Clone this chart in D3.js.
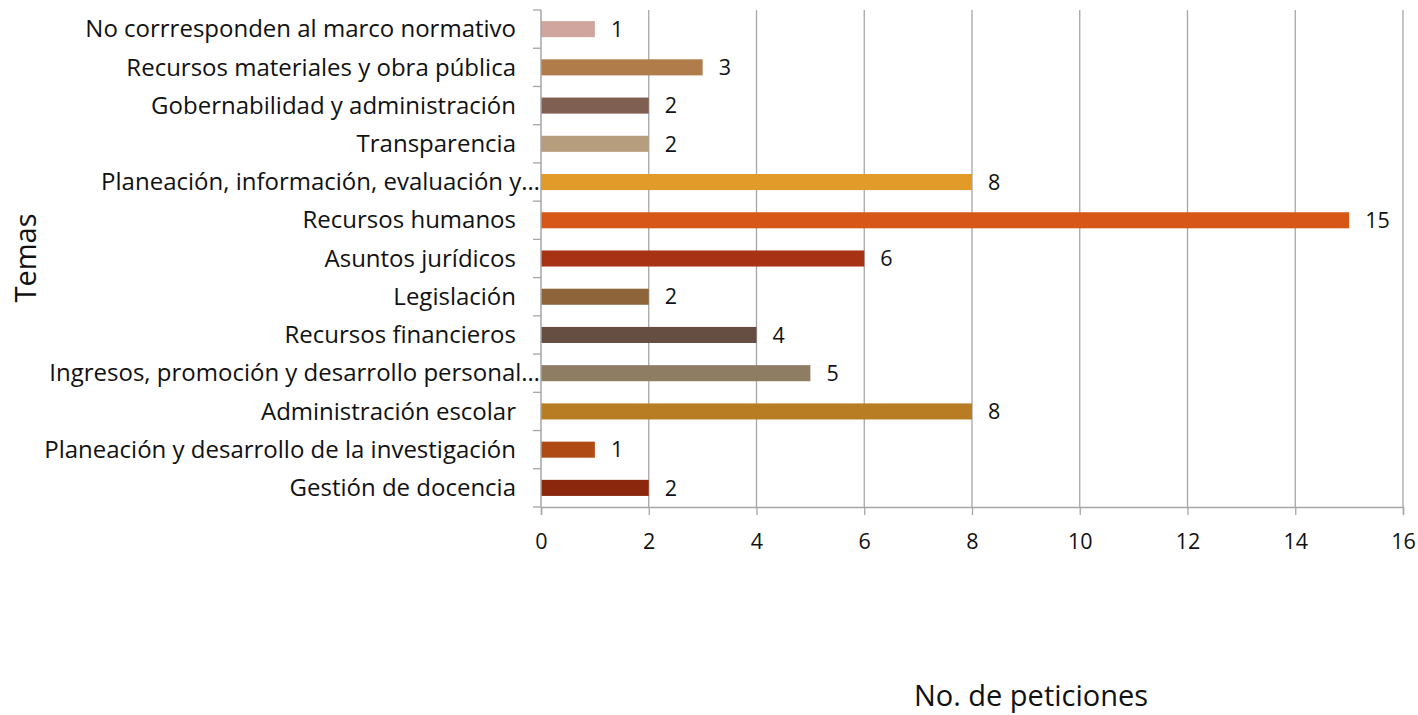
<!DOCTYPE html>
<html>
<head>
<meta charset="utf-8">
<script src="https://cdn.jsdelivr.net/npm/d3@7"></script>
<style>
  body { margin: 0; background: #fff; }
  .cat text { font-family: "Open Sans", sans-serif; font-size: 24px; fill: #111; }
  .val { font-family: "Open Sans", sans-serif; font-size: 21.5px; fill: #111; }
  .xax text { font-family: "Open Sans", sans-serif; font-size: 21.5px; fill: #111; }
  .ttl { font-family: "Open Sans", sans-serif; font-size: 29px; fill: #111; }
</style>
</head>
<body>
<div id="chart"></div>
<script>
// categories top to bottom
var temas = [
  "No corrresponden al marco normativo",
  "Recursos materiales y obra pública",
  "Gobernabilidad y administración",
  "Transparencia",
  "Planeación, información, evaluación y…",
  "Recursos humanos",
  "Asuntos jurídicos",
  "Legislación",
  "Recursos financieros",
  "Ingresos, promoción y desarrollo personal…",
  "Administración escolar",
  "Planeación y desarrollo de la investigación",
  "Gestión de docencia"
];
var peticiones = [1, 3, 2, 2, 8, 15, 6, 2, 4, 5, 8, 1, 2];
var colores = ["#cfa59e", "#b07c4a", "#7f5f51", "#b59d7e", "#e29a28", "#d65718",
  "#a83214", "#8e653a", "#664e43", "#8f7d63", "#b87d22", "#b04a14", "#8a270c"];
var xTicks = [0, 2, 4, 6, 8, 10, 12, 14, 16];

var data = temas.map(function (t, i) { return { tema: t, n: peticiones[i], color: colores[i] }; });

var margin = {top: 10, right: 15, bottom: 208, left: 541},
    width = 1418 - margin.left - margin.right,
    height = 715 - margin.top - margin.bottom;

var svg = d3.select("#chart").append("svg")
    .attr("width", 1418)
    .attr("height", 715);

var g = svg.append("g")
    .attr("transform", "translate(" + margin.left + "," + margin.top + ")");

var x = d3.scaleLinear().domain([0, 16]).range([0, 862]);
var y = d3.scaleBand().domain(temas).range([0, 497]).paddingInner(0.58).paddingOuter(0.29);

// vertical gridlines
g.selectAll(".grid")
  .data(xTicks.slice(1))
  .enter().append("line")
    .attr("x1", function (d) { return x(d); })
    .attr("x2", function (d) { return x(d); })
    .attr("y1", 0)
    .attr("y2", 497)
    .attr("stroke", "#a6a6a6")
    .attr("stroke-width", 1.3);

// bars
g.selectAll(".bar")
  .data(data)
  .enter().append("rect")
    .attr("x", x(0))
    .attr("y", function (d) { return y(d.tema); })
    .attr("width", function (d) { return x(d.n) - x(0); })
    .attr("height", y.bandwidth())
    .attr("fill", function (d) { return d.color; });

// value labels
g.selectAll(".val")
  .data(data)
  .enter().append("text")
    .attr("class", "val")
    .attr("x", function (d) { return x(d.n) + 16; })
    .attr("y", function (d) { return y(d.tema) + y.bandwidth() / 2; })
    .attr("dy", "0.36em")
    .text(function (d) { return d.n; });

// y axis: ticks at band boundaries, labels at centres
var yAx = g.append("g").attr("class", "cat");
var bounds = d3.range(temas.length + 1).map(function (i) { return i * 497 / temas.length; });
yAx.selectAll(".tk")
  .data(bounds)
  .enter().append("line")
    .attr("x1", -8).attr("x2", 0)
    .attr("y1", function (d) { return d; })
    .attr("y2", function (d) { return d; })
    .attr("stroke", "#a6a6a6")
    .attr("stroke-width", 1.3);
yAx.append("line")
    .attr("x1", 0).attr("x2", 0)
    .attr("y1", 0).attr("y2", 497)
    .attr("stroke", "#a6a6a6")
    .attr("stroke-width", 1.5);
// truncated labels run up to the axis, like the original
yAx.selectAll(".lbl")
  .data(temas)
  .enter().append("text")
    .attr("x", function (d) { return d.slice(-1) === "…" ? -1 : -25; })
    .attr("y", function (d) { return y(d) + y.bandwidth() / 2; })
    .attr("dy", "0.34em")
    .attr("text-anchor", "end")
    .text(function (d) { return d; });

// x axis
var xAxis = g.append("g")
    .attr("class", "xax")
    .attr("transform", "translate(0,497)")
    .call(d3.axisBottom(x).tickValues(xTicks).tickSize(8).tickPadding(19).tickFormat(d3.format("d")));
xAxis.select(".domain").attr("stroke", "#a6a6a6").attr("stroke-width", 1.5);
xAxis.selectAll(".tick line").attr("stroke", "#a6a6a6").attr("stroke-width", 1.3);

// axis titles
svg.append("text")
    .attr("class", "ttl")
    .attr("transform", "translate(36,258) rotate(-90)")
    .attr("text-anchor", "middle")
    .text("Temas");

svg.append("text")
    .attr("class", "ttl")
    .attr("x", 1031)
    .attr("y", 706)
    .attr("text-anchor", "middle")
    .text("No. de peticiones");
</script>
</body>
</html>
